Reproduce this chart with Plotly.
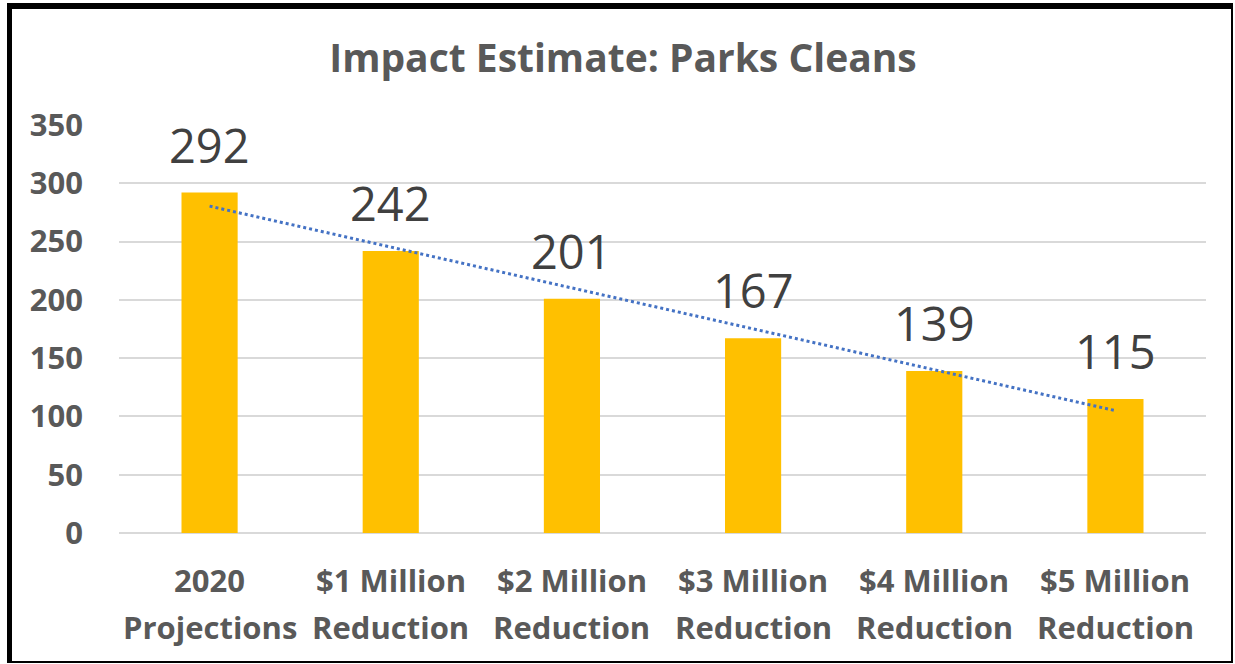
import numpy as np
import plotly.graph_objects as go

categories = ["2020<br>Projections", "$1 Million<br>Reduction", "$2 Million<br>Reduction",
              "$3 Million<br>Reduction", "$4 Million<br>Reduction", "$5 Million<br>Reduction"]
values = [292, 242, 201, 167, 139, 115]
y_ticks = [0, 50, 100, 150, 200, 250, 300, 350]
title_text = "Impact Estimate: Parks Cleans"

W, H = 1235, 664
ml, mr, mt, mb = 119, 29, 125, 131
pw, ph = W - ml - mr, H - mt - mb

# linear trendline (as in the spreadsheet)
xi = np.arange(1, len(values) + 1)
slope, intercept = np.polyfit(xi, values, 1)
trend = slope * xi + intercept

fig = go.Figure()
fig.add_trace(go.Bar(x=categories, y=values, marker=dict(color="#FFC000", line=dict(width=0)),
                     hoverinfo="skip"))
fig.add_trace(go.Scatter(x=categories, y=trend, mode="lines",
                         line=dict(color="#4472C4", width=3, dash="dot"), hoverinfo="skip"))

for c, v in zip(categories, values):
    fig.add_annotation(x=c, y=v, text=str(v), showarrow=False, yanchor="bottom", yshift=14,
                       font=dict(family="Open Sans", size=47, color="#404040"))

def px(x):
    return (x - ml) / pw

def py(y):
    return (H - mb - y) / ph

# two-line category labels (wider line spacing than tick labels allow)
for c in categories:
    for line_text, ypix in zip(c.split("<br>"), (580, 627)):
        fig.add_annotation(x=c, xref="x", y=py(ypix), yref="paper", text=line_text, showarrow=False,
                           xanchor="center", yanchor="middle",
                           font=dict(family="Open Sans", size=31, color="#595959", weight="bold"))

# outer border
fig.add_shape(type="line", xref="paper", yref="paper", x0=px(9.5), x1=px(9.5), y0=py(3), y1=py(663),
              line=dict(color="black", width=5))
fig.add_shape(type="line", xref="paper", yref="paper", x0=px(7), x1=px(1233), y0=py(6), y1=py(6),
              line=dict(color="black", width=6))
fig.add_shape(type="line", xref="paper", yref="paper", x0=px(1232), x1=px(1232), y0=py(3), y1=py(663),
              line=dict(color="black", width=2))
fig.add_shape(type="line", xref="paper", yref="paper", x0=px(7), x1=px(1233), y0=py(662), y1=py(662),
              line=dict(color="black", width=2))

fig.update_layout(
    width=W, height=H,
    margin=dict(l=ml, r=mr, t=mt, b=mb),
    paper_bgcolor="white", plot_bgcolor="white",
    showlegend=False, bargap=0.69,
    title=dict(text=title_text, x=623 / W, xref="container", xanchor="center",
               y=1 - 58 / H, yanchor="middle",
               font=dict(family="Open Sans", size=39, color="#595959", weight="bold")),
    font=dict(family="Open Sans", color="#595959"),
)
fig.update_xaxes(showgrid=False, showline=False, ticks="", showticklabels=False)
fig.update_yaxes(range=[0, 350], tickvals=y_ticks, showgrid=True, gridcolor="#D9D9D9", gridwidth=1.5,
                 zeroline=True, zerolinecolor="#D9D9D9", zerolinewidth=1.5, showline=False, ticks="",
                 tickfont=dict(family="Open Sans", size=31, color="#595959", weight="bold"),
                 ticklabelstandoff=35)

fig.write_html("out.html", config={"displayModeBar": False},
               post_script="document.body.style.margin='0';document.body.style.overflow='hidden';")
